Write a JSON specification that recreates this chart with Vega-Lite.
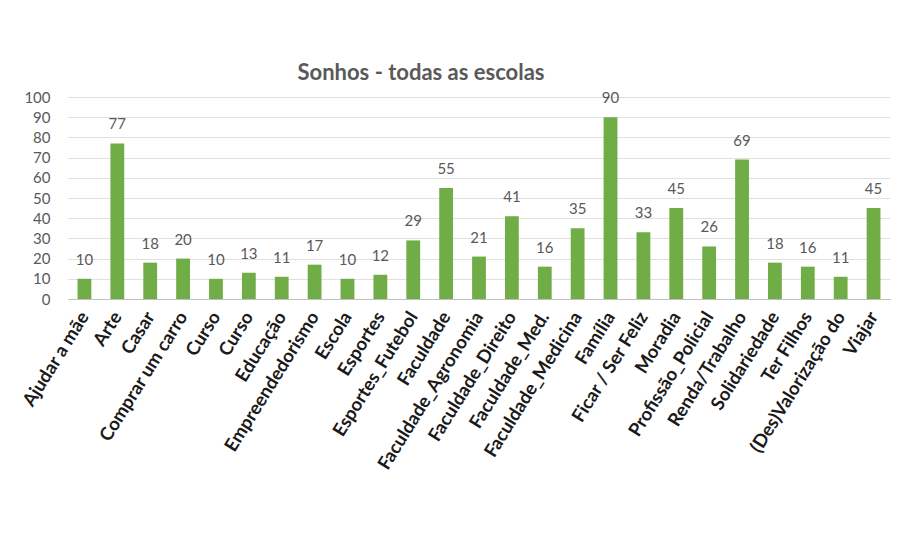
{
  "$schema": "https://vega.github.io/schema/vega-lite/v6.json",
  "autosize": {"type": "none"},
  "width": 822,
  "height": 202,
  "padding": {"left": 68, "top": 97, "right": 19, "bottom": 236},
  "background": "white",
  "title": {
    "text": "Sonhos - todas as escolas",
    "font": "Lato",
    "fontSize": 22,
    "fontWeight": "bold",
    "color": "#595959",
    "anchor": "middle",
    "dx": -58,
    "offset": 5
  },
  "data": {
    "values": [
      {"sonho": "Ajudar a mãe|1", "n": 10},
      {"sonho": "Arte|2", "n": 77},
      {"sonho": "Casar|3", "n": 18},
      {"sonho": "Comprar um carro|4", "n": 20},
      {"sonho": "Curso|5", "n": 10},
      {"sonho": "Curso|6", "n": 13},
      {"sonho": "Educação|7", "n": 11},
      {"sonho": "Empreendedorismo|8", "n": 17},
      {"sonho": "Escola|9", "n": 10},
      {"sonho": "Esportes|10", "n": 12},
      {"sonho": "Esportes_Futebol|11", "n": 29},
      {"sonho": "Faculdade|12", "n": 55},
      {"sonho": "Faculdade_Agronomia|13", "n": 21},
      {"sonho": "Faculdade_Direito|14", "n": 41},
      {"sonho": "Faculdade_Med.|15", "n": 16},
      {"sonho": "Faculdade_Medicina|16", "n": 35},
      {"sonho": "Família|17", "n": 90},
      {"sonho": "Ficar / Ser Feliz|18", "n": 33},
      {"sonho": "Moradia|19", "n": 45},
      {"sonho": "Profissão_Policial|20", "n": 26},
      {"sonho": "Renda/Trabalho|21", "n": 69},
      {"sonho": "Solidariedade|22", "n": 18},
      {"sonho": "Ter Filhos|23", "n": 16},
      {"sonho": "(Des)Valorização do|24", "n": 11},
      {"sonho": "Viajar|25", "n": 45}
    ]
  },
  "encoding": {
    "x": {
      "field": "sonho",
      "type": "nominal",
      "sort": null,
      "scale": {"paddingInner": 0.58, "paddingOuter": 0.29},
      "axis": {
        "title": null,
        "labelExpr": "split(datum.label, '|')[0]",
        "labelAngle": -58,
        "labelFont": "Lato",
        "labelFontSize": 18.5,
        "labelFontWeight": "bold",
        "labelColor": "#1a1a1a",
        "labelPadding": 14,
        "ticks": false,
        "domainColor": "#bfbfbf",
        "labelLimit": 300
      }
    },
    "y": {
      "field": "n",
      "type": "quantitative",
      "scale": {"domain": [0, 100]},
      "axis": {
        "title": null,
        "values": [0, 10, 20, 30, 40, 50, 60, 70, 80, 90, 100],
        "labelFont": "Lato",
        "labelFontSize": 15,
        "labelColor": "#595959",
        "labelPadding": 18,
        "ticks": false,
        "domain": false,
        "gridColor": "#e0e0e0"
      }
    }
  },
  "layer": [
    {"mark": {"type": "bar", "color": "#70AD47"}},
    {
      "mark": {"type": "text", "baseline": "bottom", "dy": -11, "font": "Lato", "fontSize": 15, "color": "#595959"},
      "encoding": {"text": {"field": "n", "type": "quantitative"}}
    }
  ],
  "config": {"view": {"stroke": null}}
}
